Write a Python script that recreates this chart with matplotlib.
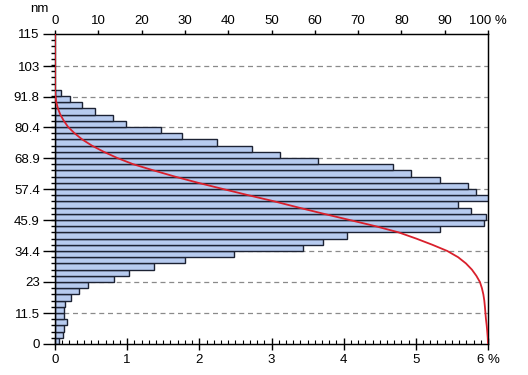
import numpy as np
import matplotlib
matplotlib.use("Agg")
import matplotlib.pyplot as plt
from matplotlib.ticker import FixedLocator, MultipleLocator

plt.rcParams['font.family'] = ['Liberation Sans', 'DejaVu Sans']

# histogram of particle sizes, bins of 2.3 nm starting at 0 nm
bin_width = 2.3
freq_pct = [0.06, 0.11, 0.13, 0.17, 0.12, 0.12, 0.14, 0.22, 0.33, 0.46,
            0.82, 1.03, 1.37, 1.80, 2.48, 3.43, 3.72, 4.05, 5.33, 5.95,
            5.97, 5.76, 5.58, 6.03, 5.83, 5.72, 5.33, 4.93, 4.69, 3.65,
            3.12, 2.73, 2.24, 1.76, 1.47, 0.99, 0.81, 0.55, 0.37, 0.21,
            0.09]
y_ticks = [0, 11.5, 23, 34.4, 45.9, 57.4, 68.9, 80.4, 91.8, 103, 115]
y_labels = ['0', '11.5', '23', '34.4', '45.9', '57.4', '68.9', '80.4', '91.8', '103', '115']
x_bottom_labels = ['0', '1', '2', '3', '4', '5', '6 %']
x_top_labels = ['0', '10', '20', '30', '40', '50', '60', '70', '80', '90', '100 %']

freq = np.array(freq_pct)
bin_start = np.arange(len(freq)) * bin_width

# cumulative share of particles above each bin edge (from the top down)
edges = np.append(bin_start, bin_start[-1] + bin_width)
above = np.append(np.cumsum(freq[::-1])[::-1], 0.0)
cum_pct = 100 * above / freq.sum()
curve_y = np.append(edges, 115)
curve_x = np.append(cum_pct, 0.0)

fig = plt.figure(figsize=(5.28, 3.75), dpi=100)
ax = fig.add_axes([55 / 528, 1 - 344 / 375, 433 / 528, 310 / 375])

ax.barh(bin_start, freq, height=bin_width, align='edge', left=0,
        color='#b7cbef', edgecolor='#1c2233', linewidth=1.0, zorder=2)

ax.set_xlim(0, 6)
ax.set_ylim(0, 115)
ax.yaxis.set_major_locator(FixedLocator(y_ticks))
ax.set_yticklabels(y_labels)
ax.yaxis.set_minor_locator(MultipleLocator(bin_width))
ax.xaxis.set_major_locator(FixedLocator(range(7)))
ax.set_xticklabels(x_bottom_labels)
ax.xaxis.set_minor_locator(MultipleLocator(0.1))

for y in y_ticks[1:-1]:
    ax.axhline(y, color='#8a8a8a', linestyle=(0, (4, 3)), linewidth=0.9, zorder=1)

ax.tick_params(axis='y', which='major', direction='out', length=9, width=1, labelsize=9.5, pad=2)
ax.tick_params(axis='y', which='minor', direction='out', length=3, width=1)
ax.tick_params(axis='x', which='major', direction='inout', length=8, width=1, labelsize=9.5, pad=3)
ax.tick_params(axis='x', which='minor', direction='in', length=3, width=0.8)
for s in ax.spines.values():
    s.set_linewidth(1.0)
    s.set_color('#111111')

ax2 = ax.twiny()
ax2.plot(curve_x, curve_y, color='#d9202c', linewidth=1.3, zorder=5)
ax2.set_xlim(0, 100)
ax2.xaxis.set_major_locator(FixedLocator(range(0, 101, 10)))
ax2.set_xticklabels(x_top_labels)
ax2.tick_params(axis='x', which='major', direction='out', length=3, width=1, labelsize=9.5, pad=2)

fig.text(30 / 528, 1 - 9 / 375, 'nm', fontsize=9.5, ha='left', va='center')

fig.savefig('out.png', dpi=100, facecolor='white')
